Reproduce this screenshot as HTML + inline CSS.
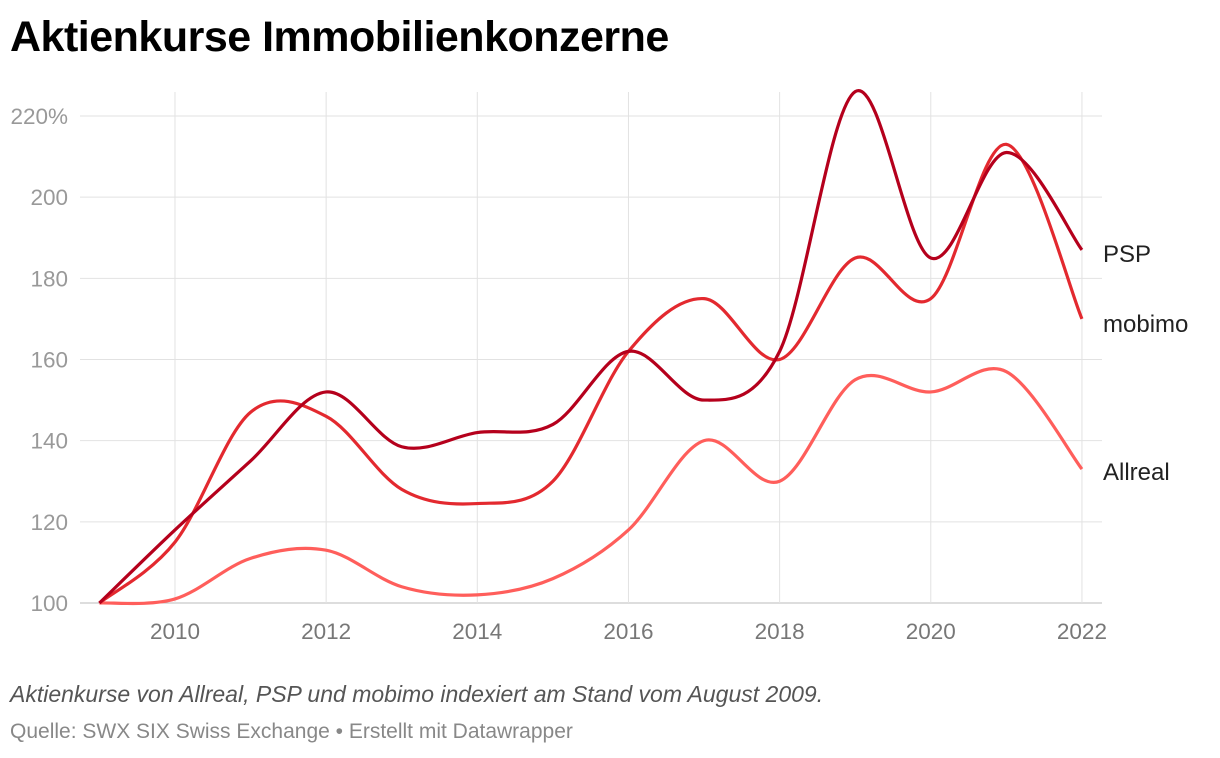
<!DOCTYPE html>
<html><head><meta charset="utf-8"><style>
body{margin:0;width:1220px;height:758px;background:#fff;font-family:"Liberation Sans",sans-serif;overflow:hidden;position:relative}
#title{position:absolute;left:10px;top:13px;font-size:43px;font-weight:bold;color:#000;margin:0;letter-spacing:-0.5px}
#note{position:absolute;left:10px;top:681px;font-size:23px;font-style:italic;color:#555}
#src{position:absolute;left:10px;top:720px;font-size:21px;color:#888}
svg{position:absolute;left:0;top:0}
</style></head><body>
<h1 id="title">Aktienkurse Immobilienkonzerne</h1>
<svg id="chart" width="1220" height="758"></svg>
<div id="note">Aktienkurse von Allreal, PSP und mobimo indexiert am Stand vom August 2009.</div>
<div id="src">Quelle: SWX SIX Swiss Exchange • Erstellt mit Datawrapper</div>
<script>
const years=[2009,2010,2011,2012,2013,2014,2015,2016,2017,2018,2019,2020,2021,2022];
const psp=[100,118,135,152,138.5,142,144,162,150,162,226,185,211,187];
const mobimo=[100,115,147,146,128,124.5,130,162,175,160,185,175,213,170];
const allreal=[100,101,111,113,104,102,106,118,140,130,155,152,157,133];
const yTicks=[100,120,140,160,180,200,220];
const xTicks=[2010,2012,2014,2016,2018,2020,2022];
const NS="http://www.w3.org/2000/svg";
const svg=document.getElementById('chart');
const X=y=>99.4+(y-2009)*75.58;
const Y=v=>603-(v-100)*81.17/20;
function mk(t,a){const e=document.createElementNS(NS,t);for(const k in a)e.setAttribute(k,a[k]);svg.appendChild(e);return e;}
yTicks.forEach(v=>{
 const l=mk('line',{x1:80,x2:1102,y1:Y(v),y2:Y(v),stroke:v===100?'#bbb':'#e2e2e2','stroke-width':1});
 
 
 const t=mk('text',{x:68,y:Y(v)+8,'text-anchor':'end','font-size':22.5,fill:'#999'});
 t.textContent=v===220?'220%':v;
 
 
});
xTicks.forEach(v=>{
 const l=mk('line',{x1:X(v),x2:X(v),y1:92,y2:603,stroke:'#e2e2e2','stroke-width':1});
 
 
 const t=mk('text',{x:X(v),y:639,'text-anchor':'middle','font-size':22.5,fill:'#777'});
 t.textContent=v;
 
 
});
function path(vals){
 const p=vals.map((v,i)=>[X(years[i]),Y(v)]);
 let d='M'+p[0][0]+','+p[0][1];
 for(let i=0;i<p.length-1;i++){
  const p0=p[i-1]||p[i],p1=p[i],p2=p[i+1],p3=p[i+2]||p[i+1];
  const c1=[p1[0]+(p2[0]-p0[0])/6,p1[1]+(p2[1]-p0[1])/6];
  const c2=[p2[0]-(p3[0]-p1[0])/6,p2[1]-(p3[1]-p1[1])/6];
  d+=`C${c1[0]},${c1[1]} ${c2[0]},${c2[1]} ${p2[0]},${p2[1]}`;
 }
 return d;
}
const series=[['allreal',allreal,'#ff5e5b','Allreal',480],['mobimo',mobimo,'#e3292f','mobimo',332],['psp',psp,'#b5001c','PSP',262]];
series.forEach(s=>{
 const l=mk('path',{d:path(s[1]),fill:'none',stroke:s[2],'stroke-width':3.2,'stroke-linejoin':'round'});
 
 
 const t=mk('text',{x:1103,y:s[4],'font-size':24,fill:'#222'});
 t.textContent=s[3];
 
 
});
</script>
</body></html>
